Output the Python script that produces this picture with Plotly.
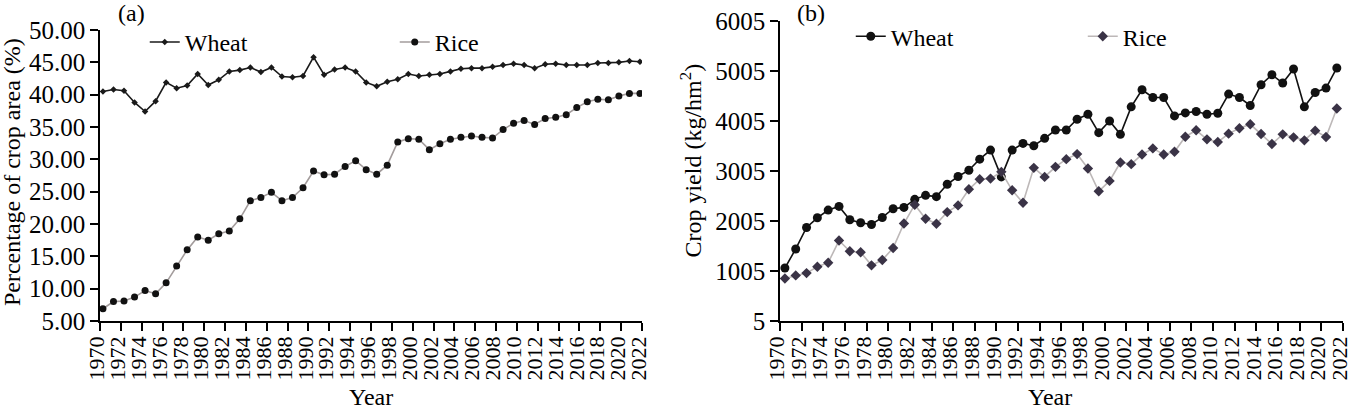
import plotly.graph_objects as go

# years covered by the 52 data points
years = list(range(1971, 2023))
# axis labels 1970..2022 every 2 years
tick_years = list(range(1970, 2023, 2))

# (a) share of crop area (%)
area_wheat = [40.5, 40.8, 40.6, 38.8, 37.4, 39.0, 41.9, 41.0, 41.4, 43.2,
              41.5, 42.3, 43.6, 43.8, 44.2, 43.5, 44.2, 42.8, 42.7, 42.9,
              45.8, 43.1, 43.9, 44.2, 43.6, 41.9, 41.3, 42.0, 42.4, 43.2,
              42.9, 43.1, 43.2, 43.6, 44.0, 44.1, 44.1, 44.3, 44.6, 44.8,
              44.6, 44.1, 44.7, 44.8, 44.6, 44.6, 44.6, 44.9, 44.9, 45.0,
              45.2, 45.1]
area_rice = [6.9, 8.0, 8.1, 8.7, 9.7, 9.2, 10.9, 13.5, 16.0, 18.0,
             17.5, 18.5, 18.9, 20.8, 23.6, 24.1, 24.9, 23.6, 24.1, 25.6,
             28.2, 27.6, 27.7, 28.9, 29.8, 28.4, 27.7, 29.1, 32.7, 33.2,
             33.1, 31.5, 32.4, 33.1, 33.4, 33.6, 33.4, 33.3, 34.6, 35.6,
             36.0, 35.4, 36.3, 36.5, 36.9, 38.0, 38.9, 39.3, 39.2, 39.8,
             40.2, 40.2]

# (b) crop yield (kg/hm2)
yield_wheat = [1064, 1446, 1875, 2069, 2223, 2297, 2029, 1969, 1935, 2076,
               2250, 2277, 2438, 2518, 2492, 2740, 2894, 3021, 3242, 3423,
               2887, 3423, 3557, 3510, 3658, 3825, 3825, 4040, 4140, 3772,
               4006, 3738, 4288, 4630, 4475, 4475, 4107, 4167, 4194, 4140,
               4160, 4543, 4475, 4315, 4730, 4931, 4764, 5045, 4288, 4576,
               4663, 5065]
yield_rice = [856, 917, 963, 1091, 1171, 1614, 1399, 1379, 1118, 1225,
              1466, 1955, 2331, 2049, 1949, 2183, 2317, 2639, 2840, 2853,
              2988, 2619, 2371, 3068, 2887, 3088, 3242, 3343, 3055, 2599,
              2807, 3175, 3142, 3336, 3457, 3336, 3390, 3691, 3819, 3638,
              3584, 3752, 3859, 3939, 3745, 3544, 3738, 3678, 3618, 3812,
              3684, 4254]

FONT = "Liberation Serif"
fig = go.Figure()

# panel (a)
fig.add_trace(go.Scatter(x=years, y=area_wheat, name="Wheat", mode="lines+markers",
                         line=dict(color="#1a1a1a", width=1.6),
                         marker=dict(symbol="diamond", size=5, color="#1a1a1a"),
                         xaxis="x", yaxis="y", legend="legend"))
fig.add_trace(go.Scatter(x=years, y=area_rice, name="Rice", mode="lines+markers",
                         line=dict(color="#a39c9c", width=1.6),
                         marker=dict(symbol="circle", size=7, color="#111111"),
                         xaxis="x", yaxis="y", legend="legend"))
# panel (b)
fig.add_trace(go.Scatter(x=years, y=yield_wheat, name="Wheat", mode="lines+markers",
                         line=dict(color="#111111", width=1.6),
                         marker=dict(symbol="circle", size=9, color="#111111"),
                         xaxis="x2", yaxis="y2", legend="legend2"))
fig.add_trace(go.Scatter(x=years, y=yield_rice, name="Rice", mode="lines+markers",
                         line=dict(color="#bdb8b8", width=1.6),
                         marker=dict(symbol="diamond", size=8, color="#3a3346"),
                         xaxis="x2", yaxis="y2", legend="legend2"))

# empty traces so the labelled year axes get drawn
fig.add_trace(go.Scatter(x=[1970, 2022], y=[None, None], showlegend=False,
                         hoverinfo="skip", xaxis="x3", yaxis="y"))
fig.add_trace(go.Scatter(x=[1970, 2022], y=[None, None], showlegend=False,
                         hoverinfo="skip", xaxis="x4", yaxis="y2"))

axis_common = dict(showline=True, linecolor="black", linewidth=1.5, ticks="outside",
                   tickcolor="black", tickwidth=1.5, ticklen=8, showgrid=False,
                   zeroline=False, automargin=False, ticklabeloverflow="allow",
                   tickfont=dict(family=FONT, size=25, color="black"))

year_axis = dict(axis_common, tickmode="array", tickvals=tick_years,
                 ticktext=[str(y) for y in tick_years], tickangle=-90,
                 tickfont=dict(family=FONT, size=22, color="black"),
                 ticklabelstandoff=-3, ticklabelshift=-3)

title_font = dict(family=FONT, size=24, color="black")

# plot area spans y = 0..321 px, x = 100..1343 px
fig.update_layout(
    width=1349, height=410,
    margin=dict(l=100, r=6, t=0, b=89, autoexpand=False),
    plot_bgcolor="white", paper_bgcolor="white",
    font=dict(family=FONT, color="black"),
    showlegend=True,
    xaxis=dict(domain=[0, 0.436], range=[1970.72, 2022.19], visible=False, anchor="y"),
    xaxis3=dict(year_axis, domain=[0, 0.436], range=[1970, 2022], overlaying="x",
                anchor="y", side="bottom"),
    yaxis=dict(axis_common, domain=[0, 0.9065], range=[5, 50], tickmode="linear",
               tick0=5, dtick=5, tickformat=".2f", anchor="x3"),
    xaxis2=dict(domain=[0.547, 1], range=[1970.54, 2022.57], visible=False, anchor="y2"),
    xaxis4=dict(year_axis, domain=[0.547, 1], range=[1970, 2022], overlaying="x2",
                anchor="y2", side="bottom"),
    yaxis2=dict(axis_common, domain=[0, 0.9346], range=[5, 6005], tickmode="linear",
                tick0=5, dtick=1000, tickformat="d", anchor="x4"),
    legend=dict(orientation="h", x=0.036, y=0.938, xanchor="left", yanchor="top",
                bgcolor="rgba(0,0,0,0)", entrywidth=205, entrywidthmode="pixels",
                font=dict(family=FONT, size=24, color="black")),
    legend2=dict(orientation="h", x=0.604, y=0.956, xanchor="left", yanchor="top",
                 bgcolor="rgba(0,0,0,0)", entrywidth=187, entrywidthmode="pixels",
                 font=dict(family=FONT, size=24, color="black")),
    annotations=[
        dict(text="(a)", xref="paper", yref="paper", x=0.025, y=0.9595, xanchor="center",
             yanchor="middle", showarrow=False, font=title_font),
        dict(text="(b)", xref="paper", yref="paper", x=0.572, y=0.9595, xanchor="center",
             yanchor="middle", showarrow=False, font=title_font),
        dict(text="Percentage of crop area (%)", xref="paper", yref="paper",
             x=-0.0708, y=0.464, xanchor="center", yanchor="middle", textangle=-90,
             showarrow=False, font=title_font),
        dict(text="Crop yield (kg/hm<sup>2</sup>)", xref="paper", yref="paper",
             x=0.4747, y=0.5, xanchor="center", yanchor="middle", textangle=-90,
             showarrow=False, font=title_font),
        dict(text="Year", xref="paper", yref="paper", x=0.218, y=-0.238,
             xanchor="center", yanchor="middle", showarrow=False, font=title_font),
        dict(text="Year", xref="paper", yref="paper", x=0.764, y=-0.238,
             xanchor="center", yanchor="middle", showarrow=False, font=title_font),
    ],
)

# drop the browser's default 8px body margin so the figure sits at the page corner
fig.write_html("out.html", config={"displayModeBar": False},
               post_script="document.body.style.margin='0px';")
